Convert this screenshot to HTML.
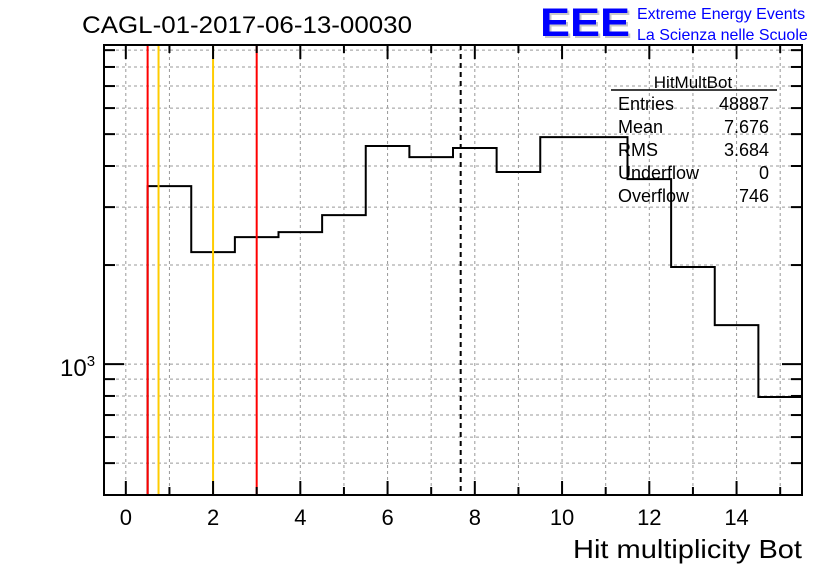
<!DOCTYPE html>
<html><head><meta charset="utf-8"><style>
body{margin:0;background:#fff;}
svg{display:block;font-family:"Liberation Sans",sans-serif;}
</style></head><body>
<svg id="c" width="836" height="572">
<text x="82" y="33" font-size="24" textLength="330" lengthAdjust="spacingAndGlyphs">CAGL-01-2017-06-13-00030</text>
<g>
<text x="542" y="38" font-size="40" font-weight="bold" fill="#c8c8c8" textLength="90" lengthAdjust="spacingAndGlyphs">EEE</text>
<text x="540" y="36" font-size="40" font-weight="bold" fill="#0000ff" textLength="90" lengthAdjust="spacingAndGlyphs">EEE</text>
<text x="637" y="19" font-size="16" fill="#0000ff">Extreme Energy Events</text>
<text x="637" y="40" font-size="16" fill="#0000ff">La Scienza nelle Scuole</text>
</g>
<g id="grid"></g>
<g id="marks"></g>
<g id="axes"></g>
<g font-size="18">
<text x="693" y="88" text-anchor="middle" font-size="17">HitMultBot</text>
<line x1="611" y1="90" x2="777" y2="90" stroke="#000" stroke-width="1.5"/>
<text x="618" y="110">Entries</text><text x="769" y="110" text-anchor="end">48887</text>
<text x="618" y="133">Mean</text><text x="769" y="133" text-anchor="end">7.676</text>
<text x="618" y="156">RMS</text><text x="769" y="156" text-anchor="end">3.684</text>
<text x="618" y="179">Underflow</text><text x="769" y="179" text-anchor="end">0</text>
<text x="618" y="202">Overflow</text><text x="769" y="202" text-anchor="end">746</text>
</g>
<text x="802" y="558" font-size="26" text-anchor="end" textLength="229" lengthAdjust="spacingAndGlyphs">Hit multiplicity Bot</text>
</svg>
<script>
const binLow=[-0.5,0.5,1.5,2.5,3.5,4.5,5.5,6.5,7.5,8.5,9.5,10.5,11.5,12.5,13.5,14.5];
const counts=[0,3475,2190,2432,2519,2837,4600,4258,4536,3835,4898,4898,3650,1972,1314,794];
const redLines=[0.5,3.0];
const orangeLines=[0.75,2.0];
const meanValue=7.676;
const xTicks=[0,2,4,6,8,10,12,14];
const L=104,R=802,T=45,B=495;
const xmin=-0.5,xmax=15.5,ymin=400,ymax=9330;
const X=v=>L+(v-xmin)/(xmax-xmin)*(R-L);
const Y=v=>B-(Math.log10(v)-Math.log10(ymin))/(Math.log10(ymax)-Math.log10(ymin))*(B-T);
const NS="http://www.w3.org/2000/svg";
function mk(t,a,p){const e=document.createElementNS(NS,t);for(const k in a)e.setAttribute(k,a[k]);p.appendChild(e);return e;}
const grid=document.getElementById('grid'),marks=document.getElementById('marks'),axes=document.getElementById('axes');
for(let v=0;v<=15;v++){const g=mk('line',{x1:X(v),x2:X(v),y1:T,y2:B,stroke:'#999','stroke-dasharray':'3,3','stroke-width':1},grid);

}
const yg=[500,600,700,800,900,1000,2000,3000,4000,5000,6000,7000,8000,9000];
yg.forEach(v=>{const g=mk('line',{x1:L,x2:R,y1:Y(v),y2:Y(v),stroke:'#999','stroke-dasharray':'3,3','stroke-width':1},grid);


const len=v===1000?20:11;
const t1=mk('line',{x1:L,x2:L+len,y1:Y(v),y2:Y(v),stroke:'#000','stroke-width':2},axes);


const t2=mk('line',{x1:R,x2:R-len,y1:Y(v),y2:Y(v),stroke:'#000','stroke-width':2},axes);

});
let d='';
binLow.forEach((lo,i)=>{const y=counts[i]>0?Y(counts[i]):B;
if(i===0)d+=`M${X(lo)},${y}`;else d+=`L${X(lo)},${y}`;d+=`L${X(lo+1)},${y}`;});
const h=mk('path',{d:d,fill:'none',stroke:'#000','stroke-width':2},marks);


redLines.forEach(v=>{const l=mk('line',{x1:X(v),x2:X(v),y1:T,y2:B,stroke:'#ff0000','stroke-width':2},marks);

});
orangeLines.forEach(v=>{const l=mk('line',{x1:X(v),x2:X(v),y1:T,y2:B,stroke:'#ffcc00','stroke-width':2},marks);

});
const ml=mk('line',{x1:X(meanValue),x2:X(meanValue),y1:T,y2:B,stroke:'#000','stroke-width':2,'stroke-dasharray':'5,4'},marks);


const fr=mk('rect',{x:L,y:T,width:R-L,height:B-T,fill:'none',stroke:'#000','stroke-width':2},axes);


for(let v=0;v<=15;v+=0.5){const major=(v%2===0);const len=major?14:(Number.isInteger(v)?8:0);if(!len)continue;
const a=mk('line',{x1:X(v),x2:X(v),y1:B,y2:B-len,stroke:'#000','stroke-width':2},axes);


const b=mk('line',{x1:X(v),x2:X(v),y1:T,y2:T+len,stroke:'#000','stroke-width':2},axes);

}
xTicks.forEach(v=>{const t=mk('text',{x:X(v),y:525,'font-size':22,'text-anchor':'middle'},axes);t.textContent=v;

});
const yl=mk('text',{x:60,y:Y(1000)+12,'font-size':24},axes);
yl.innerHTML='10<tspan dy="-10" font-size="15">3</tspan>';


</script>
</body></html>
